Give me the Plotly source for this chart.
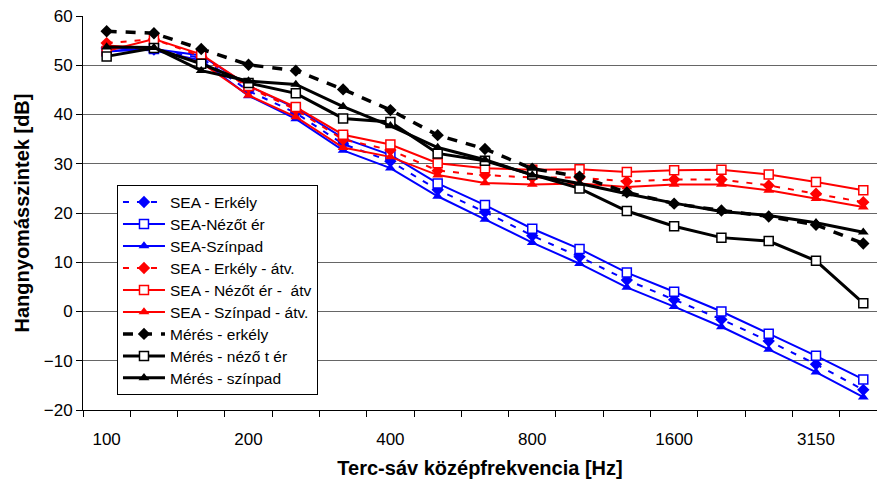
import plotly.graph_objects as go

freqs = ["100", "125", "160", "200", "250", "315", "400", "500", "630", "800",
         "1000", "1250", "1600", "2000", "2500", "3150", "4000"]
tick_labels = ["100", "200", "400", "800", "1600", "3150"]

sea_erkely = [53.5, 53.2, 51.5, 44.8, 40.3, 34.0, 30.5, 24.7, 20.2, 15.4, 11.1, 6.4, 2.4, -1.6, -6.0, -10.7, -15.9]
sea_nezoter = [52.8, 53.3, 52.0, 45.8, 41.3, 35.2, 31.8, 26.0, 21.6, 16.8, 12.7, 7.9, 4.0, 0.0, -4.5, -9.0, -13.8]
sea_szinpad = [53.5, 53.0, 51.0, 43.8, 39.1, 32.7, 29.1, 23.4, 18.7, 14.0, 9.7, 4.9, 1.0, -3.1, -7.7, -12.3, -17.4]
sea_erkely_atv = [54.5, 55.3, 51.8, 45.5, 41.0, 34.9, 32.8, 28.6, 27.7, 27.2, 27.2, 26.4, 26.8, 26.8, 25.6, 23.9, 22.2]
sea_nezoter_atv = [52.9, 55.3, 52.2, 45.8, 41.5, 35.9, 33.9, 30.1, 29.1, 28.8, 28.9, 28.3, 28.7, 28.8, 27.8, 26.3, 24.6]
sea_szinpad_atv = [54.0, 53.4, 50.5, 43.9, 39.5, 33.3, 31.4, 27.7, 26.1, 25.8, 26.0, 25.3, 25.8, 25.8, 24.6, 22.9, 21.2]
meres_erkely = [56.9, 56.5, 53.3, 50.1, 48.9, 45.1, 40.9, 35.8, 33.0, 29.0, 27.4, 24.2, 21.9, 20.5, 19.3, 17.6, 13.8]
meres_nezoter = [51.8, 53.5, 50.3, 46.4, 44.3, 39.2, 38.5, 32.1, 30.6, 27.8, 25.0, 20.4, 17.3, 15.0, 14.3, 10.3, 1.7]
meres_szinpad = [53.7, 53.6, 48.9, 46.8, 46.1, 41.6, 37.7, 33.3, 30.8, 27.7, 26.0, 23.9, 22.0, 20.3, 19.5, 18.0, 16.1]

FONT = "Arial, Liberation Sans, sans-serif"
xi = list(range(len(freqs)))
tickvals = [freqs.index(t) for t in tick_labels]

series = [
    ("SEA - Erkély", sea_erkely, "#0000FF", "diamond", "6px,8px", 2, True),
    ("SEA-Nézőt ér", sea_nezoter, "#0000FF", "square-open", "solid", 2, False),
    ("SEA-Színpad", sea_szinpad, "#0000FF", "triangle-up", "solid", 2, True),
    ("SEA - Erkély - átv.", sea_erkely_atv, "#FF0000", "diamond", "6px,8px", 2, True),
    ("SEA - Nézőt ér -  átv", sea_nezoter_atv, "#FF0000", "square-open", "solid", 2, False),
    ("SEA - Színpad - átv.", sea_szinpad_atv, "#FF0000", "triangle-up", "solid", 2, True),
    ("Mérés - erkély", meres_erkely, "#000000", "diamond", "10px,9px", 3.5, True),
    ("Mérés - néző t ér", meres_nezoter, "#000000", "square-open", "solid", 3, False),
    ("Mérés - színpad", meres_szinpad, "#000000", "triangle-up", "solid", 3, True),
]

fig = go.Figure()
for i, (name, vals, col, sym, dash, lw, filled) in enumerate(series):
    if filled:
        marker = dict(symbol=sym, size=9.5, color=col, line=dict(width=0, color=col))
    else:
        marker = dict(symbol="square", size=9, color="white", line=dict(width=1.5, color=col))
    fig.add_trace(go.Scatter(
        x=xi, y=vals, name=f'<span style="font-size:15.5px">{name}</span>',
        mode="lines+markers",
        line=dict(color=col, width=lw, dash=dash),
        marker=marker,
    ))

fig.update_layout(
    width=877, height=479,
    margin=dict(l=83, r=0, t=16, b=69),
    paper_bgcolor="white", plot_bgcolor="white",
    font=dict(family=FONT, color="black"),
    legend=dict(
        x=0.0428, y=0.571, xanchor="left", yanchor="top",
        bgcolor="white", bordercolor="black", borderwidth=1,
        font=dict(family=FONT, size=14.6, color="black"),
        itemwidth=42, traceorder="normal",
    ),
)
fig.update_xaxes(
    type="linear", range=[-0.5, 16.29],
    tickvals=tickvals, ticktext=tick_labels, ticks="",
    tickfont=dict(family=FONT, size=17, color="black"),
    ticklabelstandoff=14,
    showgrid=False, zeroline=False,
    showline=True, linecolor="black", linewidth=1,
    minor=dict(tick0=-0.5, dtick=1, ticks="outside", ticklen=6, tickcolor="black", showgrid=False),
    title=dict(text="<b>Terc-sáv középfrekvencia [Hz]</b>", font=dict(family=FONT, size=20, color="black"), standoff=12),
)
fig.update_yaxes(
    range=[-20, 60], dtick=10, tick0=0,
    ticks="outside", ticklen=6, tickcolor="black",
    tickfont=dict(family=FONT, size=17, color="black"),
    showgrid=True, gridcolor="#666666", gridwidth=1,
    zeroline=False,
    showline=True, linecolor="black", linewidth=1,
    title=dict(text="<b>Hangnyomásszintek [dB]</b>", font=dict(family=FONT, size=20, color="black"), standoff=8),
)

fig.write_html("out.html")
